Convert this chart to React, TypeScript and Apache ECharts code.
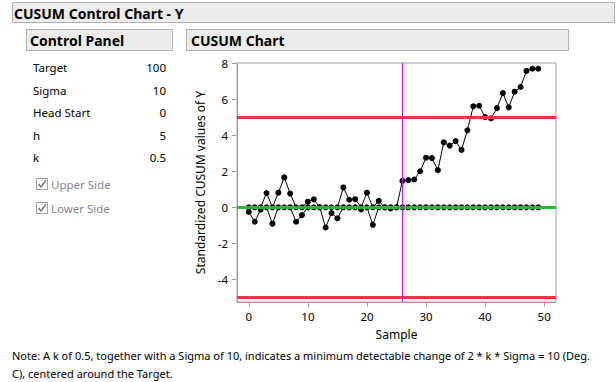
import React, { useEffect, useRef } from "react";
import * as echarts from "echarts";

const sampleIds = [
  0, 1, 2, 3, 4, 5, 6, 7, 8, 9, 10, 11, 12, 13, 14, 15, 16, 17, 18, 19, 20, 21, 22, 23, 24,
  25, 26, 27, 28, 29, 30, 31, 32, 33, 34, 35, 36, 37, 38, 39, 40, 41, 42, 43, 44, 45, 46, 47, 48, 49,
];
const upperCusum = [
  0, 0, 0, 0.79, 0, 0.81, 1.66, 0.76, 0, 0, 0.31, 0.44, 0, 0, 0, 0, 1.1, 0.42, 0.45, 0, 0.81, 0, 0.36, 0, 0,
  0, 1.46, 1.51, 1.54, 2.0, 2.75, 2.73, 2.06, 3.6, 3.42, 3.67, 3.18, 4.27, 5.6, 5.63, 5.0, 4.93, 5.5, 6.33, 5.54,
  6.41, 6.67, 7.56, 7.68, 7.68,
];
const lowerCusum = [
  -0.26, -0.8, -0.13, 0, -0.91, 0, 0, 0, -0.8, -0.43, 0, 0, 0, -1.12, -0.32, -0.61, 0, 0, 0, -0.12, 0, -0.97, 0,
  0, -0.06, 0, 0, 0, 0, 0, 0, 0, 0, 0, 0, 0, 0, 0, 0, 0, 0, 0, 0, 0, 0, 0, 0, 0, 0, 0,
];
const xTicks = [0, 10, 20, 30, 40, 50];
const yTicks = [-4, -2, 0, 2, 4, 6, 8];
const centerLine = 0;
const upperLimit = 5;
const lowerLimit = -5;
const shiftSample = 26;
const panelLabels = ["Target", "Sigma", "Head Start", "h", "k"];
const panelValues = ["100", "10", "0", "5", "0.5"];
const checkLabels = ["Upper Side", "Lower Side"];
const noteLines = [
  "Note: A k of 0.5, together with a Sigma of 10, indicates a minimum detectable change of 2 * k * Sigma = 10 (Deg.",
  "C), centered around the Target.",
];

const FONT = "'Noto Sans', 'Open Sans', sans-serif";

export default function App() {
  const ref = useRef<HTMLDivElement>(null);
  useEffect(() => {
    if (!ref.current) return;
    const chart = echarts.init(ref.current, undefined, { renderer: "svg" });
    const graphic: any[] = [];
    const header = (x: number, y: number, w: number, h: number, text: string, tx: number) => {
      graphic.push({
        type: "rect",
        shape: { x, y, width: w, height: h },
        style: { fill: "#ececec", stroke: "#b0b0b0", lineWidth: 1 },
        silent: true,
      });
      graphic.push({
        type: "text",
        x: tx,
        y: y + h / 2 + 0.5,
        style: {
          text,
          fill: "#000",
          font: `bold 14px ${FONT}`,
          verticalAlign: "middle",
        },
        silent: true,
      });
    };
    header(12.5, 2.5, 602, 20, "CUSUM Control Chart - Y", 14);
    header(26.5, 29.5, 146, 21, "Control Panel", 30);
    header(186.5, 29.5, 382, 21, "CUSUM Chart", 191);
    const rowY = [67, 90, 112, 135, 157];
    panelLabels.forEach((lab, i) => {
      graphic.push({
        type: "text",
        x: 33,
        y: rowY[i],
        style: { text: lab, fill: "#000", font: `11.5px ${FONT}`, verticalAlign: "middle" },
        silent: true,
      });
      graphic.push({
        type: "text",
        x: 166,
        y: rowY[i],
        style: { text: panelValues[i], fill: "#000", font: `11.5px ${FONT}`, verticalAlign: "middle", align: "right" },
        silent: true,
      });
    });
    const checkY = [184, 208];
    checkLabels.forEach((lab, i) => {
      const cy = checkY[i];
      graphic.push({
        type: "rect",
        shape: { x: 36.5, y: cy - 5.5, width: 11, height: 11 },
        style: { fill: "#fff", stroke: "#a0a0a0", lineWidth: 1 },
        silent: true,
      });
      graphic.push({
        type: "polyline",
        shape: { points: [[38.5, cy], [41, cy + 3], [46, cy - 4]] },
        style: { stroke: "#808080", lineWidth: 1.6, fill: null },
        silent: true,
      });
      graphic.push({
        type: "text",
        x: 51,
        y: cy,
        style: { text: lab, fill: "#8c8494", font: `11.5px ${FONT}`, verticalAlign: "middle" },
        silent: true,
      });
    });
    noteLines.forEach((ln, i) => {
      graphic.push({
        type: "text",
        x: 12,
        y: 355 + i * 18,
        style: { text: ln, fill: "#000", font: `11px ${FONT}`, verticalAlign: "middle" },
        silent: true,
      });
    });

    const upperData = sampleIds.map((s, i) => [s, upperCusum[i]]);
    const lowerData = sampleIds.map((s, i) => [s, lowerCusum[i]]);
    const axisFont = { color: "#000", fontSize: 11.5, fontFamily: FONT };

    chart.setOption({
      animation: false,
      backgroundColor: "#fff",
      textStyle: { fontFamily: FONT },
      graphic,
      grid: {
        left: 237,
        top: 63,
        width: 319,
        height: 239,
        show: true,
        borderColor: "#a0a0a0",
        borderWidth: 1,
        backgroundColor: "transparent",
      },
      xAxis: {
        type: "value",
        min: -2,
        max: 52,
        name: "Sample",
        nameLocation: "middle",
        nameGap: 26,
        nameTextStyle: { ...axisFont, fontSize: 12 },
        axisLine: { show: true, onZero: false, lineStyle: { color: "#a0a0a0" } },
        axisTick: { show: true, length: 5, lineStyle: { color: "#a0a0a0" }, customValues: xTicks },
        axisLabel: { ...axisFont, margin: 8, customValues: xTicks },
        splitLine: { show: false },
      },
      yAxis: {
        type: "value",
        min: -5.25,
        max: 8,
        name: "Standardized CUSUM values of Y",
        nameLocation: "middle",
        nameGap: 31,
        nameRotate: 90,
        nameTextStyle: { ...axisFont, fontSize: 12 },
        axisLine: { show: true, onZero: false, lineStyle: { color: "#a0a0a0" } },
        axisTick: { show: true, length: 5, lineStyle: { color: "#a0a0a0" }, customValues: yTicks },
        axisLabel: { ...axisFont, margin: 9, customValues: yTicks },
        splitLine: { show: false },
      },
      series: [
        {
          type: "line",
          name: "Upper",
          data: upperData,
          z: 2,
          symbol: "circle",
          symbolSize: 6,
          itemStyle: { color: "#000" },
          lineStyle: { color: "#000", width: 1 },
        },
        {
          type: "line",
          name: "Lower",
          data: lowerData,
          z: 2,
          symbol: "circle",
          symbolSize: 6,
          itemStyle: { color: "#000" },
          lineStyle: { color: "#000", width: 1 },
        },
        {
          type: "line",
          name: "Limits",
          data: [],
          z: 5,
          silent: true,
          markLine: {
            silent: true,
            symbol: ["none", "none"],
            label: { show: false },
            animation: false,
            data: [
              { yAxis: upperLimit, lineStyle: { color: "#ee3348", width: 3, type: "solid" } },
              { yAxis: lowerLimit, lineStyle: { color: "#ee3348", width: 3, type: "solid" } },
              { yAxis: centerLine, lineStyle: { color: "#2ab52a", width: 3, type: "solid" } },
              { xAxis: shiftSample, lineStyle: { color: "#a020f0", width: 1, type: "solid" } },
            ],
          },
        },
      ],
    });
    return () => chart.dispose();
  }, []);
  return (
    <div
      ref={ref}
      style={{ position: "absolute", left: 0, top: 0, width: 616, height: 382, background: "#fff" }}
    />
  );
}
